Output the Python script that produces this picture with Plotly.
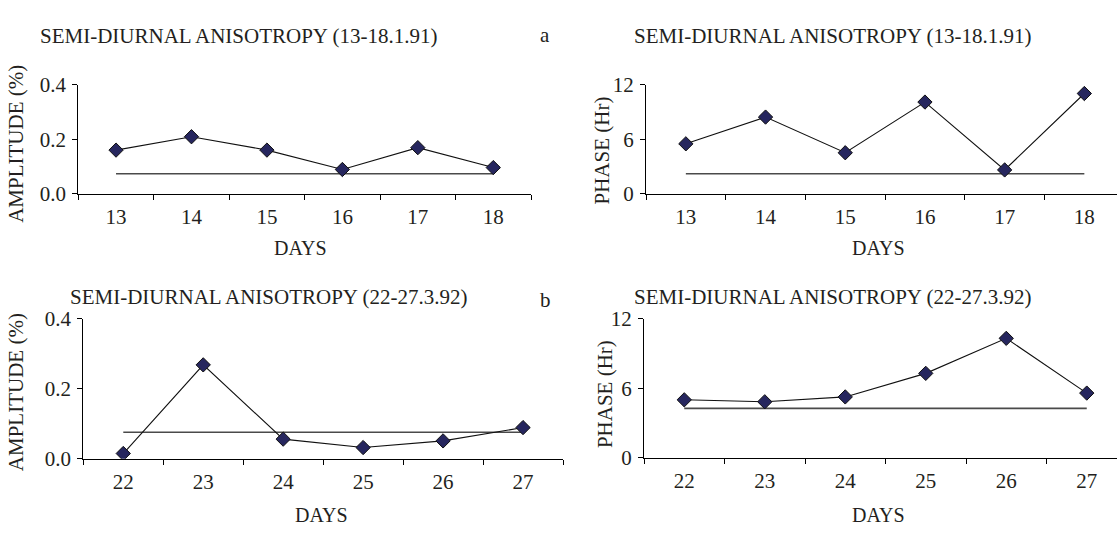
import plotly.graph_objects as go

# ---------------- data ----------------
days_a = ["13", "14", "15", "16", "17", "18"]
days_b = ["22", "23", "24", "25", "26", "27"]

amp_a = [0.160, 0.209, 0.160, 0.089, 0.169, 0.096]
phase_a = [5.49, 8.43, 4.51, 10.08, 2.62, 11.02]
amp_b = [0.015, 0.268, 0.056, 0.032, 0.051, 0.089]
phase_b = [5.00, 4.83, 5.25, 7.28, 10.30, 5.58]

mean_amp_a = 0.0735
mean_phase_a = 2.2
mean_amp_b = 0.0755
mean_phase_b = 4.26

title_a = "SEMI-DIURNAL ANISOTROPY (13-18.1.91)"
title_b = "SEMI-DIURNAL ANISOTROPY (22-27.3.92)"
amp_ticks = [0.0, 0.2, 0.4]
phase_ticks = [0, 6, 12]

# ---------------- styling ----------------
W, H = 1117, 536
FONT = "Liberation Serif, Times New Roman, serif"
TXT = "#231F20"
MK = "#26265E"

def px_x(x):
    return x / W

def px_y(y):
    return 1 - y / H

fig = go.Figure()

panels = [
    ("x", "y", days_a, amp_a, mean_amp_a, 78.3, 531, 76, 190.3, [-0.5, 5.5], amp_ticks, ".1f", [0, 0.4]),
    ("x2", "y2", days_a, phase_a, mean_phase_a, 646, 1117, 76, 190.3, [-0.5, -0.5 + (1117 - 646) / 79.7], phase_ticks, "d", [0, 12]),
    ("x3", "y3", days_b, amp_b, mean_amp_b, 83.3, 563, 321, 467.7, [-0.5, 5.5], amp_ticks, ".1f", [0, 0.4]),
    ("x4", "y4", days_b, phase_b, mean_phase_b, 644, 1117, 321, 466.7, [-0.5, -0.5 + (1117 - 644) / 80.5], phase_ticks, "d", [0, 12]),
]

for i, (xa, ya, cats, vals, mean, x0, x1, y0, y1, xr, ytv, yfmt, yr) in enumerate(panels):
    fig.add_trace(go.Scatter(
        x=[cats[0], cats[-1]], y=[mean, mean], mode="lines",
        line=dict(color="#4a4a4a", width=1.6), xaxis=xa, yaxis=ya,
        showlegend=False, hoverinfo="skip"))
    fig.add_trace(go.Scatter(
        x=cats, y=vals, mode="lines+markers",
        line=dict(color="#111111", width=1.1),
        marker=dict(symbol="diamond", size=11, color=MK,
                    line=dict(color="#101010", width=1)),
        xaxis=xa, yaxis=ya, showlegend=False))

    sfx = "" if i == 0 else str(i + 1)
    fig.layout["xaxis" + sfx] = dict(
        domain=[px_x(x0), min(px_x(x1), 1.0)], anchor="y" + sfx,
        type="category", categoryorder="array", categoryarray=cats,
        range=xr, tickson="boundaries",
        ticks="outside", ticklen=5, tickcolor="#000", tickwidth=1,
        showline=True, linecolor="#000", linewidth=1.2,
        showgrid=False, zeroline=False, fixedrange=True,
        tickfont=dict(family=FONT, size=21, color=TXT),
        ticklabelstandoff=4)
    fig.layout["yaxis" + sfx] = dict(
        domain=[px_y(y1), px_y(y0)], anchor="x" + sfx,
        range=yr, tickvals=ytv, tickformat=yfmt,
        ticks="outside", ticklen=5, tickcolor="#000", tickwidth=1,
        showline=True, linecolor="#000", linewidth=1.2,
        showgrid=False, zeroline=False, fixedrange=True,
        tickfont=dict(family=FONT, size=21, color=TXT),
        ticklabelstandoff=2)

ann = []

def text(x, y, s, size=21, xanchor="left", angle=0):
    ann.append(dict(x=px_x(x), y=px_y(y), xref="paper", yref="paper",
                    text=s, showarrow=False, xanchor=xanchor, yanchor="middle",
                    textangle=angle,
                    font=dict(family=FONT, size=size, color=TXT)))

text(37.5, 25, title_a)
text(632, 25, title_a)
text(68, 298, title_b)
text(632, 298, title_b)
text(538, 24, "a")
text(538, 302, "b")
text(16, 138, "AMPLITUDE (%)", xanchor="center", angle=-90)
text(602, 145, "PHASE (Hr)", xanchor="center", angle=-90)
text(16, 398, "AMPLITUDE (%)", xanchor="center", angle=-90)
text(605, 400, "PHASE (Hr)", xanchor="center", angle=-90)
text(300, 247, "DAYS", size=20, xanchor="center")
text(878, 247, "DAYS", size=20, xanchor="center")
text(321, 527, "DAYS", size=20, xanchor="center")
text(878, 527, "DAYS", size=20, xanchor="center")

fig.update_layout(
    width=W, height=H, margin=dict(l=0, r=0, t=0, b=0),
    paper_bgcolor="white", plot_bgcolor="white",
    annotations=ann, showlegend=False)

fig.write_html("out.html", config={"displayModeBar": False})
